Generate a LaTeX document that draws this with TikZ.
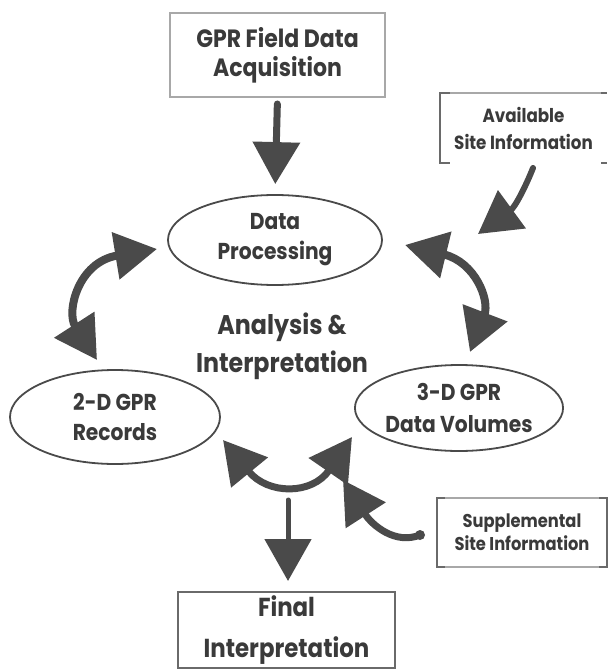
\documentclass[tikz,border=0pt]{standalone}
\usepackage{fontspec}
\setmainfont{Poppins}[FakeStretch=0.88, BoldFont={* Bold}]
\usetikzlibrary{arrows.meta,shapes.geometric}
\definecolor{ink}{HTML}{4A4A4A}
\definecolor{txt}{HTML}{3A3A3A}
\definecolor{boxg}{HTML}{A8A8A8}
\definecolor{boxd}{HTML}{6A6A6A}
\newcommand\fsz[2]{\fontsize{#1}{#2}\selectfont\bfseries}
\tikzset{
  Hd/.tip={Triangle[length=42pt,width=46pt]},
  lbl/.style={text=txt, align=center, inner sep=0pt},
  ell/.style={ellipse, draw=ink, line width=1.8pt, inner sep=0pt},
  sq/.style={rectangle, draw=#1, line width=2pt, inner sep=0pt},
  conn/.style={draw=ink, line cap=round, line width=#1},
}
\begin{document}
\begin{tikzpicture}[x=1pt,y=-1pt]
\fill[white] (0,0) rectangle (608,671);
\useasboundingbox (0,0) rectangle (608,671);

% boxes
\node[sq=boxg, lbl, minimum width=215pt, minimum height=84pt, font=\fsz{25}{29}] (acq) at (277.5,55) {GPR Field Data\\Acquisition};
\node[sq=boxd, lbl, minimum width=217pt, minimum height=76pt, font=\fsz{26}{41}] (fin) at (286.5,630) {Final\\Interpretation};
\node[lbl, minimum width=167pt, minimum height=70pt, font=\fsz{19}{27}] (avail) at (523.5,128) {Available\\Site Information};
\node[lbl, minimum width=170pt, minimum height=69pt, font=\fsz{18.5}{23}] (supp) at (522,532.5) {Supplemental\\Site Information};

% bracket frames
\draw[boxg, line width=2.2pt] (avail.north west) -- (avail.north east);
\draw[boxd, line width=2pt] ([xshift=10pt]avail.north west) -- (avail.north west) -- (avail.south west) -- ([xshift=10pt]avail.south west);
\draw[boxd, line width=2pt] ([xshift=-6pt]avail.north east) -- (avail.north east);
\draw[boxd, line width=2pt] ([xshift=-6pt]avail.south east) -- (avail.south east);
\draw[boxg, line width=1.6pt] (supp.north west) rectangle (supp.south east);
\draw[boxd, line width=2pt] ([xshift=8pt]supp.north west) -- (supp.north west) -- (supp.south west) -- ([xshift=8pt]supp.south west);
\draw[boxd, line width=2pt] ([xshift=-8pt]supp.north east) -- (supp.north east) -- (supp.south east) -- ([xshift=-8pt]supp.south east);

% ellipses
\node[ell, minimum width=214pt, minimum height=90pt, lbl, font=\fsz{23}{30}] (dp) at (275,240) {Data\\Processing};
\node[ell, minimum width=210pt, minimum height=94pt, lbl, font=\fsz{23}{30}] (rec) at (115,417) {2-D GPR\\Records};
\node[ell, minimum width=208pt, minimum height=86pt, lbl, font=\fsz{23}{32}] (vol) at (459,408) {3-D GPR\\Data Volumes};

% centre label
\node[lbl, font=\fsz{27}{38}] (ai) at (282,346) {Analysis \&\\Interpretation};

% arrow end points
\coordinate (avs) at (533,168);
\coordinate (avt) at (478,234);
\coordinate (lt) at (157,249);
\coordinate (lb) at (97,360);
\coordinate (rt) at (405,245);
\coordinate (rb) at (470,352);
\coordinate (bl) at (223,440);
\coordinate (br) at (352,437);
\coordinate (fs) at (288,500);
\coordinate (sps) at (420,535);
\coordinate (spt) at (343,480);

% connectors
\draw[conn=7pt, -Hd, shorten <=6pt, shorten >=10pt] (acq.south) -- (dp.north);
\draw[conn=6pt, -Hd] (avs) .. controls (525,188) and (515,207) .. (avt);
\draw[conn=8pt, Hd-Hd] (lt) .. controls (78,262) and (66,312) .. (lb);
\draw[conn=8pt, Hd-Hd] (rt) .. controls (475,262) and (490,300) .. (rb);
\draw[conn=7pt, Hd-Hd] (bl) .. controls (268,495) and (312,495) .. (br);
\draw[conn=5pt, -Hd, shorten >=10pt] (fs) -- (fs |- fin.north);
\draw[conn=7pt, -Hd] (sps) .. controls (395,545) and (372,525) .. (spt);
\fill[ink] (sps) circle (5pt);
\end{tikzpicture}
\end{document}
